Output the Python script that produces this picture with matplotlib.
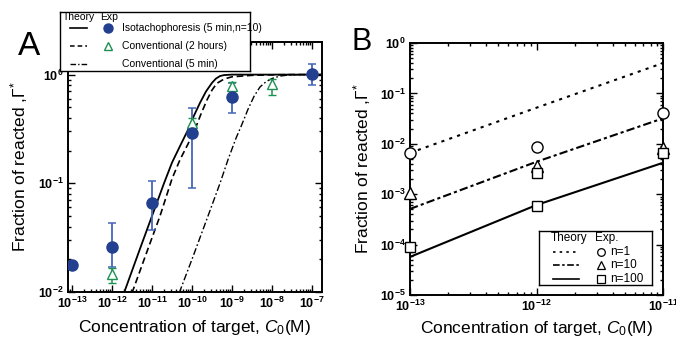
import numpy as np
import matplotlib
matplotlib.use('Agg')
from matplotlib import pyplot as plt
from matplotlib.ticker import LogLocator, NullFormatter, LogFormatterMathtext

plt.rcParams['font.family'] = ['Liberation Sans', 'DejaVu Sans']
plt.rcParams['mathtext.fontset'] = 'custom'
plt.rcParams['mathtext.rm'] = 'Liberation Sans'
plt.rcParams['mathtext.it'] = 'Liberation Sans:italic'
plt.rcParams['mathtext.bf'] = 'Liberation Sans:bold'

W, H = 676, 340

# ---- panel A: experiments ----
ito_conc = [1e-13, 1e-12, 1e-11, 1e-10, 1e-9, 1e-7]
ito_frac = [0.0178, 0.026, 0.066, 0.29, 0.62, 1.02]
ito_lo = [0.0178, 0.017, 0.037, 0.09, 0.44, 0.81]
ito_hi = [0.0178, 0.043, 0.104, 0.49, 0.84, 1.26]

conv_conc = [1e-12, 1e-10, 1e-9, 1e-8]
conv_frac = [0.0147, 0.36, 0.78, 0.82]
conv_lo = [0.012, 0.33, 0.72, 0.65]
conv_hi = [0.0167, 0.40, 0.86, 0.92]

# ---- panel A: theory curves (log10 of C0) ----
ito_th_logc = [-11.7, -11.3, -11.0, -10.7, -10.5, -10.3, -10.1, -9.95, -9.8,
               -9.65, -9.5, -9.4, -9.3, -9.2, -9.0, -6.75]
ito_th_frac = [0.0098, 0.025, 0.05, 0.10, 0.155, 0.22, 0.31, 0.42, 0.55,
               0.70, 0.84, 0.92, 0.97, 0.99, 1.0, 1.0]
conv2h_th_logc = [-11.5, -11.1, -10.8, -10.5, -10.3, -10.1, -9.93, -9.78, -9.63,
                  -9.5, -9.38, -9.2, -9.0, -8.5, -8.0, -7.5, -6.75]
conv2h_th_frac = [0.0098, 0.025, 0.05, 0.11, 0.165, 0.23, 0.31, 0.43, 0.58,
                  0.72, 0.83, 0.91, 0.955, 0.985, 0.995, 1.0, 1.0]
conv5m_th_logc = [-10.32, -10.0, -9.6, -9.3, -9.1, -8.9, -8.75, -8.6, -8.45,
                  -8.3, -8.15, -8.0, -7.8, -7.6, -7.3, -6.75]
conv5m_th_frac = [0.0098, 0.02, 0.05, 0.10, 0.165, 0.26, 0.35, 0.48, 0.63,
                  0.77, 0.86, 0.92, 0.97, 0.99, 1.0, 1.0]

# ---- panel B ----
b_conc = [1e-13, 1e-12, 1e-11]
n1_theory = [0.0066, 0.052, 0.40]
n10_theory = [5.1e-4, 0.0044, 0.032]
n100_theory = [5.7e-5, 6.1e-4, 0.0042]
n1_exp = [0.0066, 0.0087, 0.041]
n10_exp = [0.00105, 0.0036, 0.0083]
n100_exp_conc = [1e-13, 1e-12, 1e-12, 1e-11]
n100_exp = [9e-5, 0.0026, 5.9e-4, 0.0066]

blue_dot = '#22408f'
blue_bar = '#4866b8'
green = '#1e9152'


def style_log_axes(ax):
    ax.set_xscale('log')
    ax.set_yscale('log')
    ax.tick_params(which='both', direction='in', top=True, right=True,
                   labelsize=9, width=1.0, pad=3)
    ax.tick_params(which='major', length=5)
    ax.tick_params(which='minor', length=2.5)
    ax.xaxis.set_major_locator(LogLocator(base=10, numticks=20))
    ax.xaxis.set_minor_locator(LogLocator(base=10, subs=np.arange(2, 10), numticks=20))
    ax.yaxis.set_major_locator(LogLocator(base=10, numticks=20))
    ax.yaxis.set_minor_locator(LogLocator(base=10, subs=np.arange(2, 10), numticks=20))
    ax.xaxis.set_minor_formatter(NullFormatter())
    ax.yaxis.set_minor_formatter(NullFormatter())
    ax.xaxis.set_major_formatter(LogFormatterMathtext())
    ax.yaxis.set_major_formatter(LogFormatterMathtext())
    for lab in ax.get_xticklabels() + ax.get_yticklabels():
        lab.set_fontweight('bold')
    for s in ax.spines.values():
        s.set_linewidth(1.4)


fig = plt.figure(figsize=(W / 100, H / 100), dpi=100)

# ================= panel A =================
axA = fig.add_axes([68 / W, 48 / H, 254 / W, 250 / H])

axA.plot(10 ** np.array(ito_th_logc), ito_th_frac, color='black', lw=1.3)
axA.plot(10 ** np.array(conv2h_th_logc), conv2h_th_frac, color='black', lw=1.2,
         linestyle=(0, (4, 2.2)))
axA.plot(10 ** np.array(conv5m_th_logc), conv5m_th_frac, color='black', lw=1.0,
         linestyle=(0, (5, 1.8, 1.2, 1.8)))

ito_frac_a = np.array(ito_frac)
axA.errorbar(ito_conc, ito_frac,
             yerr=[ito_frac_a - np.array(ito_lo), np.array(ito_hi) - ito_frac_a],
             fmt='none', ecolor=blue_bar, elinewidth=1.3, capsize=3, capthick=1.1, zorder=3)
conv_frac_a = np.array(conv_frac)
axA.errorbar(conv_conc, conv_frac,
             yerr=[conv_frac_a - np.array(conv_lo), np.array(conv_hi) - conv_frac_a],
             fmt='^', color=green, mfc='white', mec=green, ms=7.5, mew=1.0,
             ecolor=green, elinewidth=1.1, capsize=3, capthick=1.1, zorder=4)
axA.plot(ito_conc, ito_frac, 'o', color=blue_dot, ms=8, zorder=5)

axA.set_xlim(10 ** -13.1, 10 ** -6.75)
axA.set_ylim(1e-2, 10 ** 0.3)
style_log_axes(axA)
axA.set_xlabel('Concentration of target, $\\mathit{C}_0$(M)', fontsize=12.5)
axA.set_ylabel('Fraction of reacted ,$\\mathit{\\Gamma}^{*}$', fontsize=12.5)
axA.xaxis.set_label_coords(0.5, -0.105)
axA.yaxis.set_label_coords(-0.15, 0.5)

# legend of panel A drawn in its own box
legA = fig.add_axes([60 / W, (H - 71) / H, 190 / W, 59 / H])
legA.set_xlim(0, 190)
legA.set_ylim(59, 0)
legA.set_xticks([])
legA.set_yticks([])
for s in legA.spines.values():
    s.set_linewidth(1.0)
legA.text(3, 5, 'Theory', fontsize=7.5, va='center', ha='left')
legA.text(40, 5, 'Exp', fontsize=7.5, va='center', ha='left')
rowsA = [16, 34, 52]
legA.plot([10, 27], [rowsA[0]] * 2, color='black', lw=1.2)
legA.plot([10, 27], [rowsA[1]] * 2, color='black', lw=1.1, linestyle=(0, (3, 2)))
legA.plot([10, 27], [rowsA[2]] * 2, color='black', lw=1.0, linestyle=(0, (4, 1.5, 1, 1.5)))
legA.plot([48], [rowsA[0]], 'o', color=blue_dot, ms=6.5)
legA.plot([48], [rowsA[1]], '^', mfc='white', mec=green, ms=5.5, mew=1.0)
labelsA = ['Isotachophoresis (5 min,n=10)', 'Conventional (2 hours)', 'Conventional (5 min)']
for y, lab in zip(rowsA, labelsA):
    legA.text(62, y, lab, fontsize=7.5, va='center', ha='left')

# ================= panel B =================
axB = fig.add_axes([410 / W, 45 / H, 253 / W, 252 / H])

axB.plot(b_conc, n1_theory, color='black', lw=1.5, linestyle=(0, (1.5, 2.5)))
axB.plot(b_conc, n10_theory, color='black', lw=1.5, linestyle=(0, (4, 1.5, 1.5, 1.5)))
axB.plot(b_conc, n100_theory, color='black', lw=1.5)
axB.plot(b_conc, n1_exp, 'o', mfc='white', mec='black', ms=8, mew=1.0, clip_on=False, zorder=5)
axB.plot(b_conc, n10_exp, '^', mfc='white', mec='black', ms=8.5, mew=1.0, clip_on=False, zorder=5)
axB.plot(n100_exp_conc, n100_exp, 's', mfc='white', mec='black', ms=7.5, mew=1.0, clip_on=False, zorder=6)

axB.set_xlim(1e-13, 1e-11)
axB.set_ylim(1e-5, 1e0)
style_log_axes(axB)
axB.set_xlabel('Concentration of target, $\\mathit{C}_0$(M)', fontsize=12.5)
axB.set_ylabel('Fraction of reacted ,$\\mathit{\\Gamma}^{*}$', fontsize=12.5)
axB.xaxis.set_label_coords(0.5, -0.095)
axB.yaxis.set_label_coords(-0.145, 0.5)

legB = fig.add_axes([539 / W, (H - 285) / H, 113 / W, 54 / H])
legB.set_xlim(0, 113)
legB.set_ylim(54, 0)
legB.set_xticks([])
legB.set_yticks([])
for s in legB.spines.values():
    s.set_linewidth(1.0)
legB.text(12, 7, 'Theory', fontsize=8.5, va='center', ha='left')
legB.text(56, 7, 'Exp.', fontsize=8.5, va='center', ha='left')
rowsB = [21, 34, 48]
legB.plot([14, 40], [rowsB[0]] * 2, color='black', lw=1.2, linestyle=(0, (1.5, 2.5)))
legB.plot([14, 40], [rowsB[1]] * 2, color='black', lw=1.2, linestyle=(0, (4, 1.5, 1.5, 1.5)))
legB.plot([14, 40], [rowsB[2]] * 2, color='black', lw=1.2)
legB.plot([62], [rowsB[0]], 'o', mfc='white', mec='black', ms=5.5, mew=0.9)
legB.plot([62], [rowsB[1]], '^', mfc='white', mec='black', ms=6, mew=0.9)
legB.plot([62], [rowsB[2]], 's', mfc='white', mec='black', ms=5.5, mew=0.9)
for y, lab in zip(rowsB, ['n=1', 'n=10', 'n=100']):
    legB.text(71, y, lab, fontsize=8.5, va='center', ha='left')

# panel letters
fig.text(18 / W, 1 - 55 / H, 'A', fontsize=24, va='baseline', ha='left')
fig.text(351 / W, 1 - 50 / H, 'B', fontsize=22, va='baseline', ha='left')

fig.savefig('out.png', dpi=100)
